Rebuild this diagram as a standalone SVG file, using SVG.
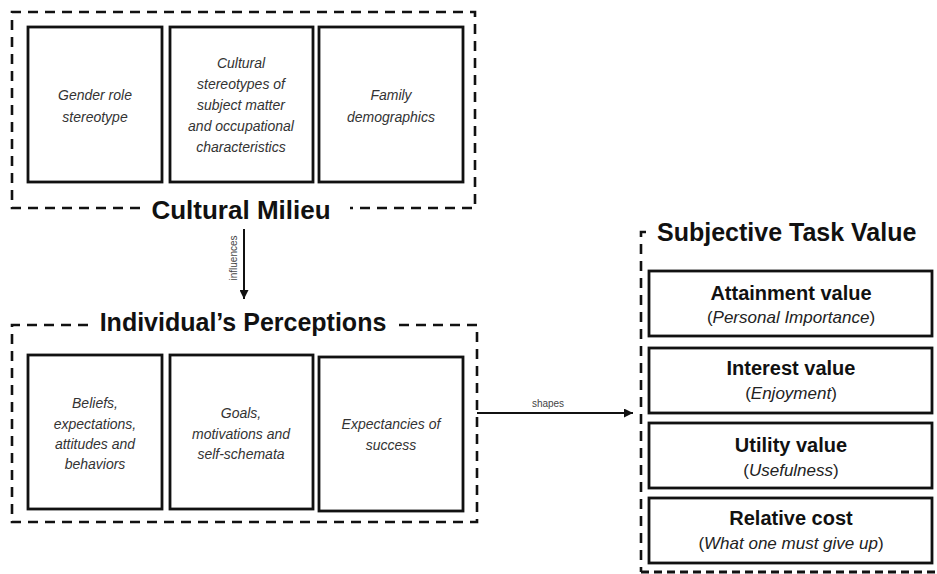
<svg xmlns="http://www.w3.org/2000/svg" width="937" height="574" viewBox="0 0 937 574">
<defs>
<style>
.dash{fill:none;stroke:#111;stroke-width:2.6;stroke-dasharray:10 7}
.dash2{fill:none;stroke:#111;stroke-width:2.8;stroke-dasharray:8 5}
.box{fill:#fff;stroke:#111;stroke-width:2.8}
.it{font-family:"Liberation Sans",Arial,sans-serif;font-style:italic;font-size:14px;fill:#333;text-anchor:middle}
.title{font-family:"Liberation Sans",Arial,sans-serif;font-weight:bold;fill:#111}
.bv{font-family:"Liberation Sans",Arial,sans-serif;font-weight:bold;font-size:20px;fill:#111;text-anchor:middle}
.sub{font-family:"Liberation Sans",Arial,sans-serif;font-size:17px;fill:#222;text-anchor:middle}
.lbl{font-family:"Liberation Sans",Arial,sans-serif;font-size:10px;fill:#444;text-anchor:middle}
.conn{stroke:#111;stroke-width:2;fill:none}
</style>
<marker id="ah" viewBox="0 0 10 10" refX="10" refY="5" markerWidth="5" markerHeight="4.5" orient="auto" markerUnits="strokeWidth">
<path d="M0,0 L10,5 L0,10 z" fill="#111"/>
</marker>
</defs>
<rect width="937" height="574" fill="#fff"/>

<g id="cultural-milieu">
<path class="dash" d="M140 208 H12 V12 H475 V208 H350"/>
<text class="title" x="241" y="219" font-size="26" text-anchor="middle">Cultural Milieu</text>
</g>
<g id="gender-role">
<rect class="box" x="28" y="27" width="134" height="155"/>
<text class="it" x="95" y="100">Gender role</text>
<text class="it" x="95" y="122">stereotype</text>
</g>
<g id="cultural-stereotypes">
<rect class="box" x="170" y="27" width="143" height="155"/>
<text class="it" x="241" y="68">Cultural</text>
<text class="it" x="241" y="89">stereotypes of</text>
<text class="it" x="241" y="110">subject matter</text>
<text class="it" x="241" y="131">and occupational</text>
<text class="it" x="241" y="152">characteristics</text>
</g>
<g id="family-demographics">
<rect class="box" x="319" y="27" width="144" height="155"/>
<text class="it" x="391" y="100">Family</text>
<text class="it" x="391" y="122">demographics</text>
</g>

<g id="individual-perceptions">
<path class="dash" d="M88 325 H12 V522 H477 V325 H398"/>
<text class="title" x="243" y="331" font-size="25" text-anchor="middle">Individual’s Perceptions</text>
</g>
<g id="beliefs">
<rect class="box" x="28" y="355" width="134" height="154"/>
<text class="it" x="95" y="408">Beliefs,</text>
<text class="it" x="95" y="429">expectations,</text>
<text class="it" x="95" y="449">attitudes and</text>
<text class="it" x="95" y="469">behaviors</text>
</g>
<g id="goals">
<rect class="box" x="170" y="355" width="143" height="154"/>
<text class="it" x="241" y="418">Goals,</text>
<text class="it" x="241" y="439">motivations and</text>
<text class="it" x="241" y="459">self-schemata</text>
</g>
<g id="expectancies">
<rect class="box" x="319" y="357" width="144" height="154"/>
<text class="it" x="391" y="429">Expectancies of</text>
<text class="it" x="391" y="450">success</text>
</g>

<g id="subjective-task-value">
<path class="dash" d="M646 232 H641 V572"/>
<path class="dash2" d="M641 572 H937"/>
<text class="title" x="657" y="241" font-size="25">Subjective Task Value</text>
</g>
<g id="attainment">
<rect class="box" x="649" y="271" width="283" height="65"/>
<text class="bv" x="791" y="300">Attainment value</text>
<text class="sub" x="791" y="323">(<tspan font-style="italic">Personal Importance</tspan>)</text>
</g>
<g id="interest">
<rect class="box" x="649" y="348" width="283" height="65"/>
<text class="bv" x="791" y="375">Interest value</text>
<text class="sub" x="791" y="399">(<tspan font-style="italic">Enjoyment</tspan>)</text>
</g>
<g id="utility">
<rect class="box" x="649" y="423" width="283" height="65"/>
<text class="bv" x="791" y="452">Utility value</text>
<text class="sub" x="791" y="476">(<tspan font-style="italic">Usefulness</tspan>)</text>
</g>
<g id="relative-cost">
<rect class="box" x="649" y="498" width="283" height="65"/>
<text class="bv" x="791" y="525">Relative cost</text>
<text class="sub" x="791" y="549">(<tspan font-style="italic">What one must give up</tspan>)</text>
</g>

<g id="connectors">
<line class="conn" x1="244" y1="229" x2="244" y2="299" marker-end="url(#ah)"/>
<text class="lbl" transform="translate(237,258) rotate(-90)">influences</text>
<line class="conn" x1="477" y1="413" x2="633" y2="413" marker-end="url(#ah)"/>
<text class="lbl" x="548" y="407">shapes</text>
</g>
</svg>
